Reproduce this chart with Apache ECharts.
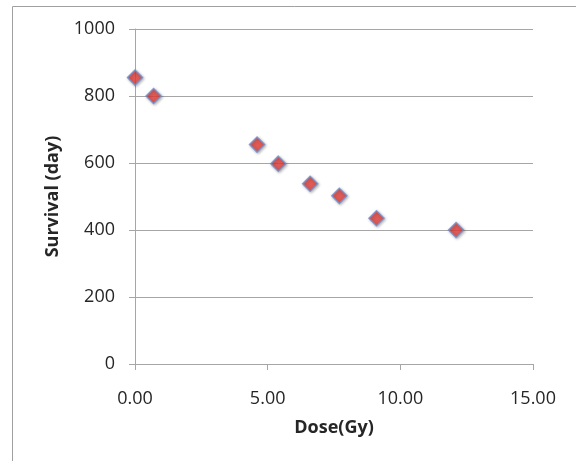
<!DOCTYPE html>
<html>
<head>
<meta charset="utf-8">
<script src="https://cdn.jsdelivr.net/npm/echarts@6/dist/echarts.min.js"></script>
<style>
  html, body { margin: 0; padding: 0; background: #fff; }
  #chart { width: 576px; height: 461px; }
</style>
</head>
<body>
<div id="chart"></div>
<script>
// dose (Gy) vs survival (day)
const doses = [0.0, 0.7, 4.6, 5.4, 6.6, 7.7, 9.1, 12.1]
const survival = [855, 800, 655, 598, 538, 502, 435, 400]
const xTicks = [0, 5, 10, 15]
const yTicks = [0, 200, 400, 600, 800, 1000]

const chart = echarts.init(document.getElementById('chart'))

const AXIS_GRAY = '#a6a6a6'
const TEXT = '#262626'
const FONT = 'Open Sans'

chart.setOption({
  backgroundColor: '#fff',
  animation: false,
  graphic: [
    {
      type: 'rect',
      shape: { x: 12.5, y: 6.5, width: 700, height: 600 },
      style: { fill: 'none', stroke: '#a0a0a0', lineWidth: 1 },
      silent: true,
    },
  ],
  grid: { left: 135, right: 43, top: 29, bottom: 97 },
  xAxis: {
    type: 'value',
    min: xTicks[0],
    max: xTicks[xTicks.length - 1],
    interval: 5,
    name: 'Dose(Gy)',
    nameLocation: 'middle',
    nameGap: 55,
    nameTextStyle: { fontFamily: FONT, fontSize: 18, fontWeight: 'bold', color: TEXT },
    axisLine: { show: true, lineStyle: { color: AXIS_GRAY, width: 1 } },
    axisTick: { show: true, length: 6, lineStyle: { color: AXIS_GRAY } },
    splitLine: { show: false },
    axisLabel: {
      margin: 26,
      fontFamily: FONT,
      fontSize: 18,
      color: TEXT,
      formatter: (v) => v.toFixed(2),
    },
  },
  yAxis: {
    type: 'value',
    min: yTicks[0],
    max: yTicks[yTicks.length - 1],
    interval: 200,
    name: 'Survival (day)',
    nameLocation: 'middle',
    nameGap: 73,
    nameTextStyle: { fontFamily: FONT, fontSize: 18, fontWeight: 'bold', color: TEXT },
    axisLine: { show: true, lineStyle: { color: AXIS_GRAY, width: 1 } },
    axisTick: { show: true, length: 6, lineStyle: { color: AXIS_GRAY } },
    splitLine: { show: true, lineStyle: { color: AXIS_GRAY, width: 1 } },
    axisLabel: {
      margin: 20,
      fontFamily: FONT,
      fontSize: 18,
      color: TEXT,
      formatter: (v) => String(v),
    },
  },
  series: [
    {
      type: 'scatter',
      symbol: 'diamond',
      symbolSize: 15,
      itemStyle: {
        color: '#e8413c',
        borderColor: '#6f8fcf',
        borderWidth: 1.5,
        shadowBlur: 3,
        shadowColor: 'rgba(0,0,0,0.35)',
        shadowOffsetX: 1,
        shadowOffsetY: 1,
      },
      data: doses.map((d, i) => [d, survival[i]]),
    },
  ],
})
</script>
</body>
</html>
